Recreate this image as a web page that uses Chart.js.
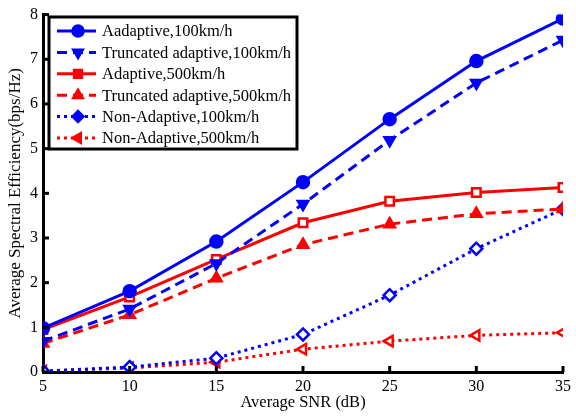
<!DOCTYPE html>
<html>
<head>
<meta charset="utf-8">
<script src="https://cdn.jsdelivr.net/npm/chart.js@4.4.0/dist/chart.umd.min.js"></script>
<style>
  html, body { margin: 0; padding: 0; background: #fff; }
  #wrap { width: 576px; height: 420px; }
</style>
</head>
<body>
<div id="wrap"><canvas id="chart"></canvas></div>
<script>
// Valeurs
const snr = [5, 10, 15, 20, 25, 30, 35];
const adaptive100 = [0.98, 1.81, 2.92, 4.25, 5.66, 6.96, 7.91];
const truncated100 = [0.69, 1.41, 2.43, 3.76, 5.19, 6.47, 7.43];
const adaptive500 = [0.95, 1.68, 2.52, 3.34, 3.82, 4.02, 4.13];
const truncated500 = [0.64, 1.28, 2.10, 2.85, 3.31, 3.54, 3.65];
const nonAdaptive100 = [0.02, 0.11, 0.31, 0.84, 1.72, 2.76, 3.65];
const nonAdaptive500 = [0.02, 0.09, 0.22, 0.51, 0.69, 0.82, 0.88];
const labels = [
    'Aadaptive,100km/h',
    'Truncated adaptive,100km/h',
    'Adaptive,500km/h',
    'Truncated adaptive,500km/h',
    'Non-Adaptive,100km/h',
    'Non-Adaptive,500km/h'
];
const yTicks = [0, 1, 2, 3, 4, 5, 6, 7, 8];

const FONT = '"Liberation Serif", "Times New Roman", serif';
const BLUE = '#0000ff';
const RED = '#ff0000';

function toPoints(values) {
    return values.map((v, i) => ({ x: snr[i], y: v }));
}

function makeSet(label, values, color, dash, style, fill, rotation) {
    return {
        label: label,
        data: toPoints(values),
        borderColor: color,
        backgroundColor: fill,
        borderWidth: 3,
        borderDash: dash,
        pointStyle: style,
        pointRotation: rotation || 0,
        pointRadius: 6,
        pointBorderWidth: 2.5,
        pointBorderColor: color,
        pointBackgroundColor: fill,
        legendFill: color,
        tension: 0
    };
}

// Légende encadrée dans la zone du graphique
const boxLegend = {
    id: 'boxLegend',
    afterDraw(chart) {
        const ctx = chart.ctx;
        const x0 = 49, y0 = 17, w = 248, h = 132;
        ctx.save();
        ctx.fillStyle = '#fff';
        ctx.fillRect(x0, y0, w, h);
        ctx.lineWidth = 3;
        ctx.strokeStyle = '#000';
        ctx.strokeRect(x0, y0, w, h);
        ctx.font = '16.5px ' + FONT;
        ctx.textBaseline = 'middle';
        chart.data.datasets.forEach((ds, i) => {
            const cy = y0 + 14 + i * 21.4;
            ctx.strokeStyle = ds.borderColor;
            ctx.lineWidth = 3;
            ctx.setLineDash(ds.borderDash);
            ctx.beginPath();
            ctx.moveTo(x0 + 8, cy);
            ctx.lineTo(x0 + 47, cy);
            ctx.stroke();
            ctx.setLineDash([]);
            ctx.lineWidth = 2.5;
            ctx.fillStyle = ds.legendFill;
            Chart.helpers.drawPoint(ctx, {
                pointStyle: ds.pointStyle,
                rotation: ds.pointRotation,
                radius: 5.5,
                borderWidth: 2.5
            }, x0 + 29, cy);
            ctx.fillStyle = '#000';
            ctx.fillText(ds.label, x0 + 53, cy + 1);
        });
        ctx.restore();
    }
};

// Petites graduations vers l'intérieur
const innerTicks = {
    id: 'innerTicks',
    afterDatasetsDraw(chart) {
        const ctx = chart.ctx;
        const xs = chart.scales.x, ys = chart.scales.y;
        const a = chart.chartArea;
        ctx.save();
        ctx.strokeStyle = '#000';
        ctx.lineWidth = 3;
        snr.forEach(v => {
            const px = xs.getPixelForValue(v);
            ctx.beginPath();
            ctx.moveTo(px, a.bottom);
            ctx.lineTo(px, a.bottom - 6);
            ctx.stroke();
        });
        yTicks.forEach(v => {
            const py = ys.getPixelForValue(v);
            ctx.beginPath();
            ctx.moveTo(a.left, py);
            ctx.lineTo(a.left + 6, py);
            ctx.stroke();
        });
        ctx.restore();
    }
};

new Chart(document.getElementById('chart'), {
    type: 'line',
    data: {
        datasets: [
            makeSet(labels[0], adaptive100, BLUE, [], 'circle', BLUE),
            makeSet(labels[1], truncated100, BLUE, [10, 6], 'triangle', BLUE, 180),
            makeSet(labels[2], adaptive500, RED, [], 'rect', '#fff'),
            makeSet(labels[3], truncated500, RED, [10, 6], 'triangle', RED),
            makeSet(labels[4], nonAdaptive100, BLUE, [3, 4], 'rectRot', '#fff'),
            makeSet(labels[5], nonAdaptive500, RED, [3, 4], 'triangle', '#fff', 270)
        ]
    },
    options: {
        responsive: true,
        maintainAspectRatio: false,
        animation: false,
        layout: { padding: { top: 10, right: 5, left: 0, bottom: 0 } },
        plugins: {
            legend: { display: false },
            tooltip: { enabled: false }
        },
        scales: {
            x: {
                type: 'linear',
                min: 5,
                max: 35,
                afterFit(scale) { scale.height = 48; },
                afterBuildTicks(scale) { scale.ticks = snr.map(v => ({ value: v })); },
                grid: { display: false, drawTicks: false },
                border: { display: true, color: '#000', width: 3 },
                ticks: { color: '#000', padding: 5, font: { family: FONT, size: 16 } },
                title: {
                    display: true,
                    text: 'Average SNR (dB)',
                    color: '#000',
                    padding: { top: 0, bottom: 7 },
                    font: { family: FONT, size: 16.5 }
                }
            },
            y: {
                min: 0,
                max: 8,
                afterFit(scale) { scale.width = 43; },
                afterBuildTicks(scale) { scale.ticks = yTicks.map(v => ({ value: v })); },
                grid: { display: false, drawTicks: false },
                border: { display: true, color: '#000', width: 3 },
                ticks: { color: '#000', padding: 5, font: { family: FONT, size: 16 } },
                title: {
                    display: true,
                    text: 'Average Spectral Efficiency(bps/Hz)',
                    color: '#000',
                    padding: { top: 5, bottom: 0 },
                    font: { family: FONT, size: 17 }
                }
            }
        }
    },
    plugins: [innerTicks, boxLegend]
});
</script>
</body>
</html>
